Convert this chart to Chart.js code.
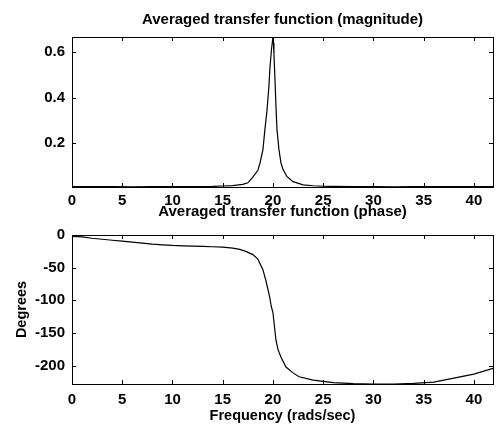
<!DOCTYPE html>
<html>
<head>
<meta charset="utf-8">
<script src="https://cdn.jsdelivr.net/npm/chart.js@4/dist/chart.umd.min.js"></script>
<style>
  body { margin: 0; background: #fff; }
  #wrap { position: relative; width: 497px; height: 428px; }
  canvas { position: absolute; left: 0; }
  #magChart { top: 0; }
  #phaseChart { top: 200px; }
</style>
</head>
<body>
<div id="wrap">
  <canvas id="magChart" width="497" height="212"></canvas>
  <canvas id="phaseChart" width="497" height="228"></canvas>
</div>
<script>
// frequency axis (rads/sec)
const xTicks = [0, 5, 10, 15, 20, 25, 30, 35, 40];
const xMax = 41.9;

// magnitude
const magFreq = [0, 2, 4, 6, 8, 10, 12, 14, 15, 16, 17, 17.5, 18, 18.5, 18.7, 19, 19.2, 19.4, 19.6, 19.7, 19.85, 20,
  20.05, 20.1, 20.2, 20.3, 20.4, 20.6, 20.8, 21, 21.4, 22, 23, 24, 25, 26, 28, 30, 32, 34, 36, 38, 40, 41.9];
const magValues = [0.008, 0.008, 0.008, 0.007, 0.008, 0.008, 0.008, 0.009, 0.011, 0.013, 0.018, 0.025, 0.05, 0.08, 0.11, 0.17, 0.26, 0.34, 0.45, 0.53, 0.61, 0.666,
  0.64, 0.59, 0.48, 0.36, 0.26, 0.17, 0.112, 0.085, 0.052, 0.03, 0.016, 0.012, 0.01, 0.009, 0.008, 0.008, 0.007, 0.008, 0.008, 0.008, 0.008, 0.008];
const magTicks = [0.2, 0.4, 0.6];

// phase
const phaseFreq = [0, 1, 2, 3, 4, 5, 6, 7, 8, 9, 10, 11, 12, 13, 14, 15, 16, 16.7, 17.3, 18, 18.5, 19, 19.3, 19.66, 19.83, 20, 20.15, 20.3, 20.5,
  20.8, 21.3, 22, 22.6, 24, 25, 26, 28, 30, 32, 34, 36, 38, 40, 41.9];
const phaseValues = [-2, -3, -5, -6.5, -8, -9.5, -11, -12.5, -14, -15, -16, -16.5, -17, -17.5, -18, -18.5, -20, -22, -25, -30, -37, -53, -70, -94, -109, -119, -140, -161, -175,
  -187, -202, -211, -217, -222, -224, -226, -227.5, -228, -228, -227, -225, -219, -213, -204];
const phaseTicks = [-200, -150, -100, -50, 0];

const FONT = "'Liberation Sans', Arial, sans-serif";

function pts(xs, ys) {
  return xs.map((x, i) => ({ x: x, y: ys[i] }));
}

// box around axes with inward tick marks, like the original plot
const boxPlugin = {
  id: "box",
  afterDraw(chart) {
    const ctx = chart.ctx;
    const a = chart.chartArea;
    const len = 4;
    ctx.save();
    ctx.strokeStyle = "#000";
    ctx.lineWidth = 1;
    ctx.strokeRect(Math.round(a.left) + 0.5, Math.round(a.top) + 0.5,
      Math.round(a.right - a.left), Math.round(a.bottom - a.top));
    ctx.beginPath();
    chart.scales.x.ticks.forEach(t => {
      const px = Math.round(chart.scales.x.getPixelForValue(t.value)) + 0.5;
      ctx.moveTo(px, a.bottom); ctx.lineTo(px, a.bottom - len);
      ctx.moveTo(px, a.top); ctx.lineTo(px, a.top + len);
    });
    chart.scales.y.ticks.forEach(t => {
      const py = Math.round(chart.scales.y.getPixelForValue(t.value)) + 0.5;
      ctx.moveTo(a.left, py); ctx.lineTo(a.left + len, py);
      ctx.moveTo(a.right, py); ctx.lineTo(a.right - len, py);
    });
    ctx.stroke();
    ctx.restore();
  }
};

function makeChart(el, opts) {
  return new Chart(el, {
    type: "line",
    data: {
      datasets: [{
        data: opts.data,
        borderColor: "#000",
        borderWidth: 1.2,
        pointRadius: 0,
        tension: 0,
        fill: false
      }]
    },
    options: {
      responsive: false,
      animation: false,
      layout: { padding: { left: 0, right: 4, top: 0, bottom: 0 } },
      plugins: {
        legend: { display: false },
        tooltip: { enabled: false },
        title: {
          display: true,
          text: opts.title,
          color: "#000",
          fullSize: false,
          font: { family: FONT, size: 15, weight: "bold" },
          padding: opts.titlePad
        }
      },
      scales: {
        x: {
          type: "linear",
          min: 0,
          max: xMax,
          afterBuildTicks: s => { s.ticks = xTicks.map(v => ({ value: v })); },
          afterFit: s => { s.height = opts.xHeight; },
          grid: { display: false, drawTicks: false },
          border: { display: false },
          ticks: {
            color: "#000",
            padding: opts.xTickPad,
            maxRotation: 0,
            font: { family: FONT, size: 15, weight: "bold" }
          },
          title: opts.xTitle ? {
            display: true,
            text: opts.xTitle,
            color: "#000",
            font: { family: FONT, size: 14.5, weight: "bold" },
            padding: { top: 0, bottom: 3 }
          } : { display: false }
        },
        y: {
          type: "linear",
          min: opts.yMin,
          max: opts.yMax,
          afterBuildTicks: s => { s.ticks = opts.yTicks.map(v => ({ value: v })); },
          afterFit: s => { s.width = 72; },
          grid: { display: false, drawTicks: false },
          border: { display: false },
          ticks: {
            color: "#000",
            padding: 7,
            font: { family: FONT, size: 15, weight: "bold" },
            callback: v => String(v)
          },
          title: opts.yTitle ? {
            display: true,
            text: opts.yTitle,
            color: "#000",
            font: { family: FONT, size: 14.5, weight: "bold" },
            padding: { top: 13, bottom: 0 }
          } : { display: false }
        }
      }
    },
    plugins: [boxPlugin]
  });
}

makeChart(document.getElementById("magChart"), {
  data: pts(magFreq, magValues),
  title: "Averaged transfer function (magnitude)",
  titlePad: { top: 11, bottom: 8 },
  xHeight: 25,
  xTickPad: 5,
  yMin: 0.0066,
  yMax: 0.666,
  yTicks: magTicks
});

makeChart(document.getElementById("phaseChart"), {
  data: pts(phaseFreq, phaseValues),
  title: "Averaged transfer function (phase)",
  titlePad: { top: 3, bottom: 14 },
  xHeight: 44,
  xTickPad: 7,
  xTitle: "Frequency (rads/sec)",
  yTitle: "Degrees",
  yMin: -228,
  yMax: 0,
  yTicks: phaseTicks
});
</script>
</body>
</html>
